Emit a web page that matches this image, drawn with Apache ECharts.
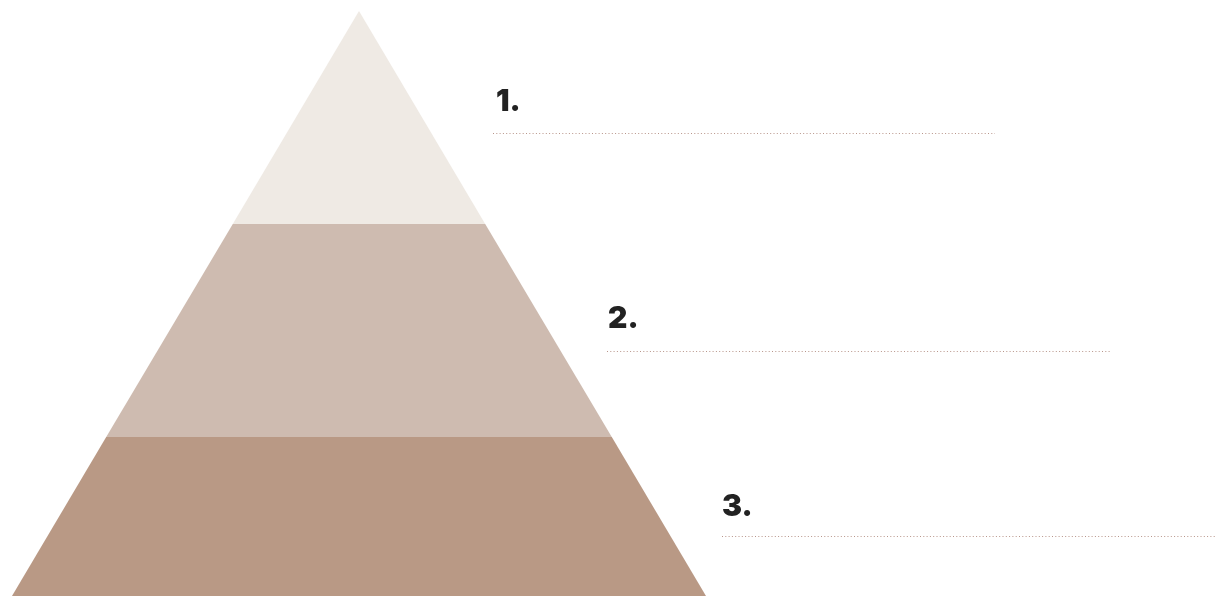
<!DOCTYPE html>
<html>
<head>
<meta charset="utf-8">
<script src="https://cdn.jsdelivr.net/npm/echarts@6/dist/echarts.min.js"></script>
<style>
html,body{margin:0;padding:0;background:#fff;}
#chart{width:1216px;height:596px;}
</style>
</head>
<body>
<div id="chart"></div>
<script>
// Pyramid layers (top to bottom) and relative widths at each layer's lower edge
const layerNames = ['1.', '2.', '3.'];
const layerValues = [33.3, 66.7, 100];
const layerColors = ['#EFEAE4', '#CEBBB0', '#B99985'];

const chart = echarts.init(document.getElementById('chart'), null, {renderer: 'canvas'});

const labelPos = [
  {x: 496, y: 102, lx1: 493, lx2: 995, ly: 133.5},
  {x: 608, y: 319, lx1: 607, lx2: 1110, ly: 351.5},
  {x: 722, y: 507, lx1: 722, lx2: 1216, ly: 536.5}
];

const graphics = [];
layerNames.forEach(function (n, i) {
  const p = labelPos[i];
  graphics.push({
    type: 'text',
    x: p.x, y: p.y,
    style: {
      text: n,
      font: '900 30px Inter, "DejaVu Sans", sans-serif',
      fill: '#222222',
      textAlign: 'left',
      textVerticalAlign: 'middle'
    },
    silent: true
  });
  graphics.push({
    type: 'line',
    shape: {x1: p.lx1, y1: p.ly, x2: p.lx2, y2: p.ly},
    style: {stroke: '#B8958A', lineWidth: 1, lineDash: [1, 2.3]},
    silent: true
  });
});

chart.setOption({
  animation: false,
  backgroundColor: '#ffffff',
  graphic: graphics,
  series: [{
    type: 'funnel',
    sort: 'ascending',
    min: 0,
    max: 100,
    minSize: '0%',
    maxSize: '100%',
    left: -20,
    top: 11,
    width: 758,
    height: 639,
    gap: 0,
    silent: true,
    label: {show: false},
    labelLine: {show: false},
    itemStyle: {borderWidth: 0},
    data: layerNames.map(function (n, i) {
      return {name: n, value: layerValues[i], itemStyle: {color: layerColors[i]}};
    })
  }]
});
</script>
</body>
</html>
